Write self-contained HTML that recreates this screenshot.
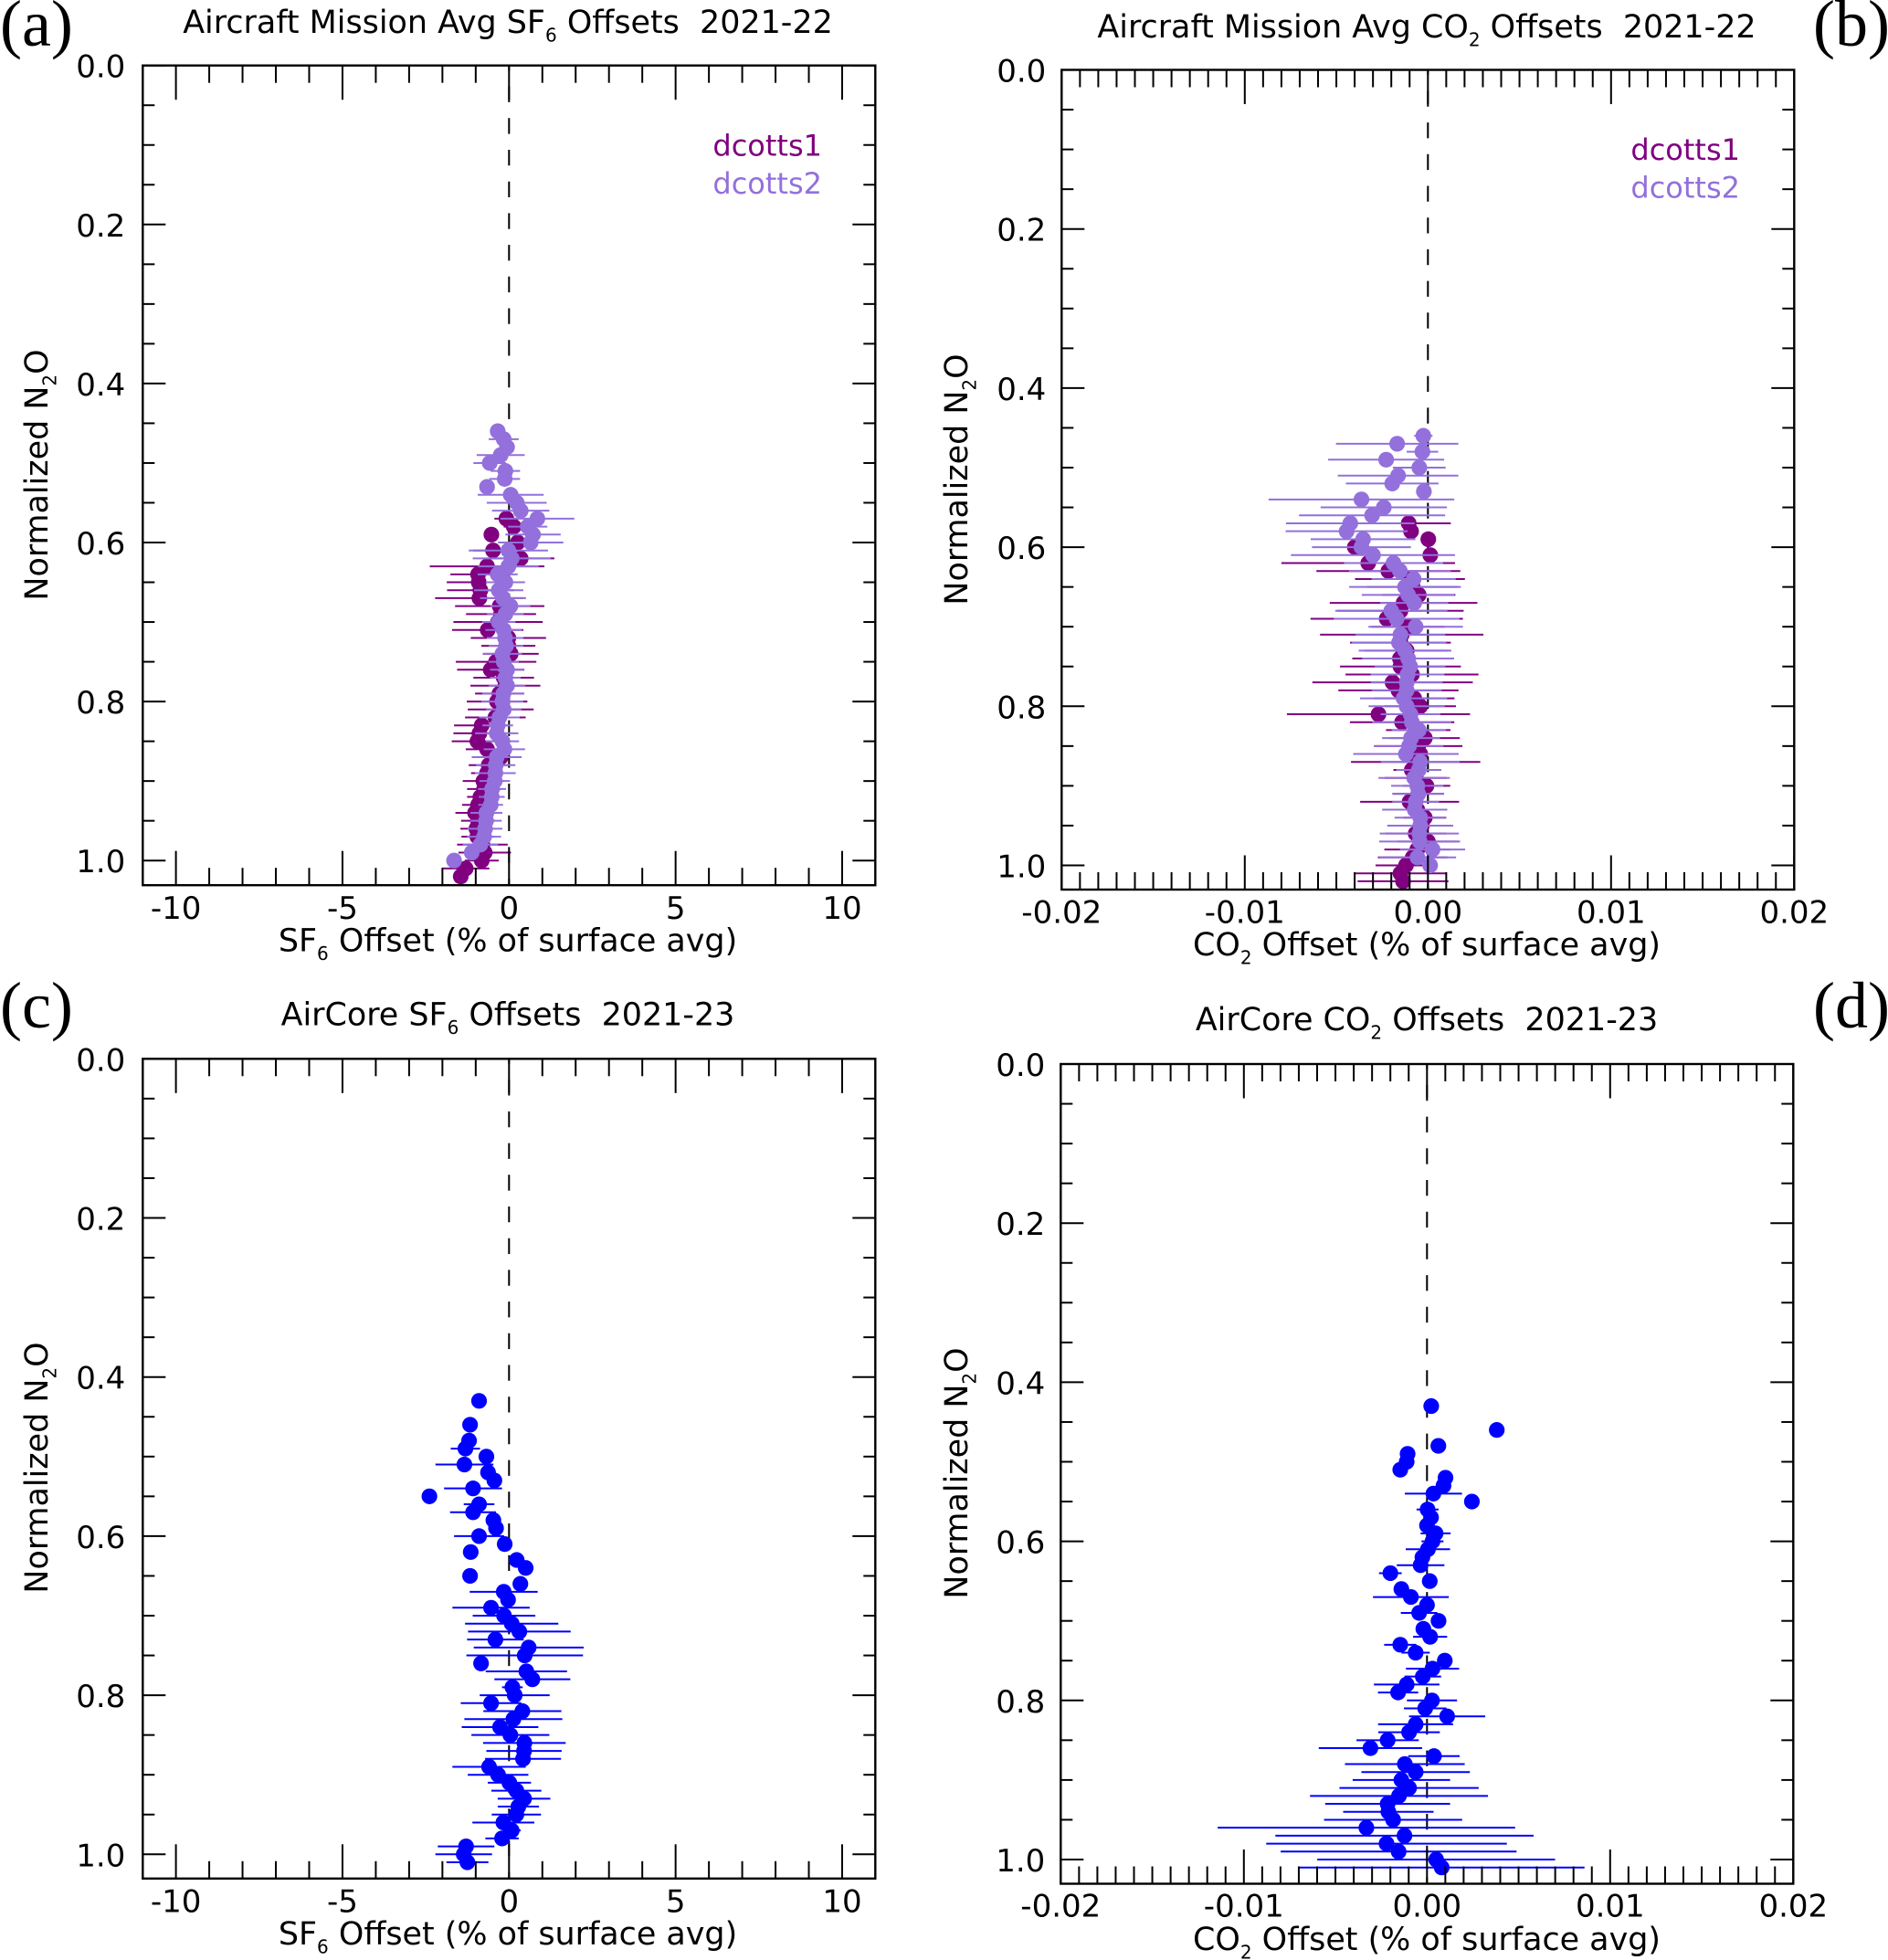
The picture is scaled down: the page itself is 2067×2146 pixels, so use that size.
<!DOCTYPE html>
<html lang="en">
<head>
<meta charset="utf-8">
<title>Aircraft and AirCore SF6 and CO2 Offsets</title>
<style>
html,body{margin:0;padding:0;background:#fff;}
svg{display:block;}
text{font-family:"DejaVu Sans",sans-serif;font-size:34px;fill:#000;white-space:pre;}
text.ttl{font-size:34.9px;}
text.leg{font-size:32px;}
text.panel-letter{font-family:"Liberation Serif",serif;font-size:72px;}
.sub{font-size:20px;}
</style>
</head>
<body>
<svg id="figure" xmlns="http://www.w3.org/2000/svg" width="2067" height="2146" viewBox="0 0 2067 2146">
<rect x="0" y="0" width="2067" height="2146" fill="#fff"/>

<text class="panel-letter" x="0" y="50">(a)</text>
<text class="panel-letter" x="1985" y="50">(b)</text>
<text class="panel-letter" x="0" y="1125">(c)</text>
<text class="panel-letter" x="1985" y="1125">(d)</text>

<text class="ttl" x="556" y="36" text-anchor="middle">Aircraft Mission Avg SF<tspan class="sub" dy="9.5">6</tspan><tspan dy="-9.5"> Offsets  2021-22</tspan></text>
<text class="ttl" x="1562" y="41" text-anchor="middle">Aircraft Mission Avg CO<tspan class="sub" dy="9.5">2</tspan><tspan dy="-9.5"> Offsets  2021-22</tspan></text>
<text class="ttl" x="556" y="1122.7" text-anchor="middle">AirCore SF<tspan class="sub" dy="9.5">6</tspan><tspan dy="-9.5"> Offsets  2021-23</tspan></text>
<text class="ttl" x="1562" y="1128" text-anchor="middle">AirCore CO<tspan class="sub" dy="9.5">2</tspan><tspan dy="-9.5"> Offsets  2021-23</tspan></text>

<text class="ttl" x="556" y="1041.7" text-anchor="middle">SF<tspan class="sub" dy="9.5">6</tspan><tspan dy="-9.5"> Offset (% of surface avg)</tspan></text>
<text class="ttl" x="1562" y="1046" text-anchor="middle">CO<tspan class="sub" dy="9.5">2</tspan><tspan dy="-9.5"> Offset (% of surface avg)</tspan></text>
<text class="ttl" x="556" y="2129" text-anchor="middle">SF<tspan class="sub" dy="9.5">6</tspan><tspan dy="-9.5"> Offset (% of surface avg)</tspan></text>
<text class="ttl" x="1562" y="2135" text-anchor="middle">CO<tspan class="sub" dy="9.5">2</tspan><tspan dy="-9.5"> Offset (% of surface avg)</tspan></text>

<text class="ttl" transform="translate(52 520) rotate(-90)" text-anchor="middle">Normalized N<tspan class="sub" dy="9.5">2</tspan><tspan dy="-9.5">O</tspan></text>
<text class="ttl" transform="translate(1059 525) rotate(-90)" text-anchor="middle">Normalized N<tspan class="sub" dy="9.5">2</tspan><tspan dy="-9.5">O</tspan></text>
<text class="ttl" transform="translate(52 1607) rotate(-90)" text-anchor="middle">Normalized N<tspan class="sub" dy="9.5">2</tspan><tspan dy="-9.5">O</tspan></text>
<text class="ttl" transform="translate(1059 1613) rotate(-90)" text-anchor="middle">Normalized N<tspan class="sub" dy="9.5">2</tspan><tspan dy="-9.5">O</tspan></text>

<g id="panel-a"></g>
<g id="panel-b"></g>
<g id="panel-c"></g>
<g id="panel-d"></g>

<text class="leg" x="900" y="170.5" text-anchor="end" style="fill:#800080">dcotts1</text>
<text class="leg" x="900" y="212" text-anchor="end" style="fill:#9370DB">dcotts2</text>
<text class="leg" x="1905" y="175" text-anchor="end" style="fill:#800080">dcotts1</text>
<text class="leg" x="1905" y="216.5" text-anchor="end" style="fill:#9370DB">dcotts2</text>
</svg>

<script>
// ---- axis labels ----
const sf6TickValues = [-10, -5, 0, 5, 10];
const sf6TickLabels = ["-10", "-5", "0", "5", "10"];
const co2TickValues = [-0.02, -0.01, 0, 0.01, 0.02];
const co2TickLabels = ["-0.02", "-0.01", "0.00", "0.01", "0.02"];
const n2oTickValues = [0, 0.2, 0.4, 0.6, 0.8, 1.0];
const n2oTickLabels = ["0.0", "0.2", "0.4", "0.6", "0.8", "1.0"];

// ---- panel (a) aircraft SF6 ----
const aDcotts1N2o = [0.57,0.58,0.59,0.60,0.61,0.62,0.63,0.64,0.65,0.66,
0.67,0.68,0.69,0.70,0.71,0.72,0.73,0.74,0.75,0.76,
0.77,0.78,0.79,0.80,0.81,0.82,0.83,0.84,0.85,0.86,
0.87,0.88,0.89,0.90,0.91,0.92,0.93,0.94,0.95,0.96,
0.97,0.98,0.99,1.00,1.01,1.02];
const aDcotts1Offset = [-0.08,0.14,-0.53,0.26,-0.48,0.35,-0.66,-0.93,-0.91,-0.86,
-0.89,-0.28,-0.24,-0.33,-0.64,-0.02,-0.02,0.05,-0.39,-0.55,
-0.16,-0.11,-0.29,-0.36,-0.25,-0.41,-0.82,-0.89,-0.95,-0.66,
-0.25,-0.61,-0.66,-0.77,-0.75,-0.86,-0.93,-1.02,-0.93,-0.98,
-0.95,-0.80,-0.73,-0.82,-1.30,-1.45];
const aDcotts1Error = [0.36,0.3,0,0.3,0.6,1.01,1.72,0.83,0.96,1.0,
1.33,1.34,1.05,1.34,1.07,1.13,0.81,0.84,1.21,1.01,
0.91,1.05,0.73,0.91,0.99,0.91,0.83,0.78,0.77,0.64,
0.60,0.60,0.48,0.62,0.51,0.40,0.48,0.59,0.51,0.48,
0.48,0.76,0.79,0.51,0.71,0];
const aDcotts2N2o = [0.46,0.47,0.48,0.49,0.50,0.51,0.52,0.53,0.54,0.55,
0.56,0.57,0.58,0.59,0.60,0.61,0.62,0.63,0.64,0.65,
0.66,0.67,0.68,0.69,0.70,0.71,0.72,0.73,0.74,0.75,
0.76,0.77,0.78,0.79,0.80,0.81,0.82,0.83,0.84,0.85,
0.86,0.87,0.88,0.89,0.90,0.91,0.92,0.93,0.94,0.95,
0.96,0.97,0.98,0.99,1.00];
const aDcotts2Offset = [-0.34,-0.16,-0.06,-0.25,-0.58,-0.11,-0.13,-0.66,0.05,0.23,
0.35,0.85,0.56,0.72,0.65,-0.02,0.08,-0.02,-0.34,-0.11,
-0.31,-0.18,0.04,-0.11,-0.31,-0.16,-0.12,-0.09,-0.20,-0.16,
-0.06,-0.11,-0.06,-0.17,-0.20,-0.16,-0.29,-0.34,-0.37,-0.20,
-0.14,-0.37,-0.40,-0.41,-0.43,-0.51,-0.52,-0.55,-0.68,-0.69,
-0.72,-0.75,-0.86,-1.12,-1.65];
const aDcotts2Error = [0,0.45,0,0.72,0.49,0.44,0.46,0,0.99,0.90,
0.86,1.11,0.59,0.83,0.98,1.19,1.17,0.91,0.60,0.59,
0.74,0.69,0.60,0.55,0.50,0.55,0.55,0.52,0.59,0.45,
0.51,0.46,0.55,0.63,0.63,0.53,0.61,0.46,0.65,0.50,
0.62,0.75,0.59,0.61,0.46,0.42,0.39,0.37,0.48,0.47,
0.52,0.51,0.53,0,0];

// ---- panel (b) aircraft CO2 ----
const bDcotts1N2o = [0.57,0.58,0.59,0.60,0.61,0.62,0.63,0.64,0.65,0.66,
0.67,0.68,0.69,0.70,0.71,0.72,0.73,0.74,0.75,0.76,
0.77,0.78,0.79,0.80,0.81,0.82,0.83,0.84,0.85,0.86,
0.87,0.88,0.89,0.90,0.91,0.92,0.93,0.94,0.95,0.96,
0.97,0.98,0.99,1.00,1.01,1.02];
const bDcotts1Offset = [-0.00105,-0.00092,0.00002,-0.00399,0.00013,-0.00326,-0.00216,-0.00098,-0.00083,-0.00050,
-0.00133,-0.00150,-0.00225,-0.00108,-0.00143,-0.00150,-0.00116,-0.00153,-0.00150,-0.00087,
-0.00193,-0.00161,-0.00075,-0.00042,-0.00270,-0.00141,-0.00053,-0.00017,-0.00053,-0.00042,
-0.00067,-0.00088,-0.00067,-0.00008,-0.00053,-0.00100,-0.00058,-0.00017,-0.00033,-0.00067,
0.00000,-0.00058,-0.00083,-0.00120,-0.00150,-0.00136];
const bDcotts1Error = [0.00230,0,0,0,0,0.00474,0.00393,0.00300,0.00250,0.00200,
0.00403,0.00345,0.00416,0.00200,0.00446,0.00275,0.00230,0.00260,0.00330,0.00363,
0.00438,0.00328,0.00220,0.00195,0.00500,0.00285,0.00176,0.00191,0.00241,0.00200,
0.00353,0.00100,0.00170,0.00130,0.00141,0.00270,0.00150,0.00117,0.00150,0.00166,
0.00166,0.00180,0.00190,0.00166,0.00246,0.00248];
const bDcotts2N2o = [0.46,0.47,0.48,0.49,0.50,0.51,0.52,0.53,0.54,0.55,
0.56,0.57,0.58,0.59,0.60,0.61,0.62,0.63,0.64,0.65,
0.66,0.67,0.68,0.69,0.70,0.71,0.72,0.73,0.74,0.75,
0.76,0.77,0.78,0.79,0.80,0.81,0.82,0.83,0.84,0.85,
0.86,0.87,0.88,0.89,0.90,0.91,0.92,0.93,0.94,0.95,
0.96,0.97,0.98,0.99,1.00];
const bDcotts2Offset = [-0.00025,-0.00168,-0.00030,-0.00228,-0.00047,-0.00163,-0.00195,-0.00022,-0.00363,-0.00241,
-0.00305,-0.00424,-0.00444,-0.00354,-0.00363,-0.00300,-0.00188,-0.00153,-0.00078,-0.00125,
-0.00108,-0.00075,-0.00200,-0.00171,-0.00067,-0.00150,-0.00158,-0.00125,-0.00108,-0.00097,
-0.00111,-0.00116,-0.00116,-0.00133,-0.00116,-0.00095,-0.00088,-0.00050,-0.00092,-0.00103,
-0.00120,-0.00042,-0.00050,-0.00075,-0.00058,-0.00053,-0.00067,-0.00072,-0.00042,-0.00042,
-0.00047,-0.00045,0.00025,-0.00057,0.00012];
const bDcotts2Error = [0.00050,0.00334,0.00086,0.00317,0.00144,0.00329,0.00253,0,0.00507,0.00345,
0.00399,0.00351,0.00333,0.00286,0.00270,0.00448,0.00270,0.00278,0.00230,0.00305,
0.00253,0.00186,0.00306,0.00343,0.00258,0.00245,0.00258,0.00253,0.00251,0.00193,
0.00201,0.00196,0.00191,0.00238,0.00208,0.00163,0.00216,0.00148,0.00158,0.00188,
0.00288,0.00215,0.00123,0.00195,0.00143,0.00141,0.00128,0.00178,0.00140,0.00180,
0.00216,0.00221,0.00178,0.00211,0];

// ---- panel (c) AirCore SF6 ----
const cN2o = [0.43,0.46,0.48,0.49,0.50,0.51,0.52,0.53,0.54,0.55,
0.56,0.57,0.58,0.59,0.60,0.61,0.62,0.63,0.64,0.65,
0.66,0.67,0.68,0.69,0.70,0.71,0.72,0.73,0.74,0.75,
0.76,0.77,0.78,0.79,0.80,0.81,0.82,0.83,0.84,0.85,
0.86,0.87,0.88,0.89,0.90,0.91,0.92,0.93,0.94,0.95,
0.96,0.97,0.98,0.99,1.00,1.01];
const cOffset = [-0.90,-1.17,-1.20,-1.31,-0.68,-1.34,-0.63,-0.44,-1.08,-2.39,
-0.90,-1.08,-0.47,-0.39,-0.90,-0.13,-1.15,0.23,0.50,-1.17,
0.34,-0.16,-0.03,-0.54,-0.15,0.08,0.31,-0.41,0.59,0.47,
-0.84,0.52,0.70,0.10,0.17,-0.54,0.40,0.13,-0.27,0.04,
0.46,0.45,0.42,-0.60,-0.33,0.01,0.22,0.45,0.28,0.22,
-0.17,0.08,-0.21,-1.29,-1.36,-1.25];
const cError = [0,0,0,0.44,0,0.87,0,0,0.87,0,
0.46,0.69,0,0,0.75,0,0,0,0,0,
0,1.02,0,1.16,0.94,1.40,1.54,0.85,1.65,1.75,
0,1.22,1.14,0.31,1.05,0.91,1.17,1.47,1.15,1.17,
1.24,1.13,1.14,1.10,0.91,0.65,0.75,0.79,0.62,0.74,
0.93,0.27,0.50,0.85,0.85,0.63];

// ---- panel (d) AirCore CO2 ----
const dN2o = [0.43,0.46,0.48,0.49,0.50,0.51,0.52,0.53,0.54,0.55,
0.56,0.57,0.58,0.59,0.60,0.61,0.62,0.63,0.64,0.65,
0.66,0.67,0.68,0.69,0.70,0.71,0.72,0.73,0.74,0.75,
0.76,0.77,0.78,0.79,0.80,0.81,0.82,0.83,0.84,0.85,
0.86,0.87,0.88,0.89,0.90,0.91,0.92,0.93,0.94,0.95,
0.96,0.97,0.98,0.99,1.00,1.01];
const dOffset = [0.00023,0.00381,0.00062,-0.00106,-0.00111,-0.00146,0.00101,0.00090,0.00035,0.00245,
0.00003,0.00022,0.00000,0.00047,0.00030,0.00005,-0.00025,-0.00035,-0.00200,0.00015,
-0.00140,-0.00088,0.00000,-0.00043,0.00063,-0.00020,0.00017,-0.00146,-0.00062,0.00097,
0.00030,-0.00023,-0.00111,-0.00158,0.00027,-0.00010,0.00110,-0.00062,-0.00098,-0.00215,
-0.00309,0.00038,-0.00121,-0.00062,-0.00140,-0.00098,-0.00153,-0.00215,-0.00211,-0.00185,
-0.00331,-0.00123,-0.00221,-0.00155,0.00050,0.00080];
const dError = [0,0,0,0,0,0,0,0,0.00156,0,
0.00060,0,0,0.00082,0.00060,0.00121,0,0.00130,0.00062,0,
0,0.00207,0,0.00100,0,0,0.00093,0.00088,0.00077,0,
0.00145,0.00100,0.00179,0.00110,0.00137,0.00116,0.00208,0.00205,0.00168,0.00170,
0.00282,0.00140,0.00327,0.00296,0.00266,0.00380,0.00486,0.00341,0.00247,0.00377,
0.00812,0.00705,0.00657,0.00644,0.00649,0.00780];

const SVG_NS = "http://www.w3.org/2000/svg";

function addEl(parent, tag, attrs, name) {
  const el = document.createElementNS(SVG_NS, tag);
  for (const k in attrs) el.setAttribute(k, attrs[k]);
  
  
  parent.appendChild(el);
  return el;
}

function drawSeries(g, prefix, sx, sy, levels, offsets, errors, color) {
  levels.forEach(function (lev, i) {
    const cy = sy(lev);
    if (errors[i] > 0) {
      addEl(g, 'line', {
        x1: sx(offsets[i] - errors[i]), x2: sx(offsets[i] + errors[i]),
        y1: cy, y2: cy, stroke: color, 'stroke-width': 2
      }, prefix + '-error-bar');
    }
    addEl(g, 'circle', { cx: sx(offsets[i]), cy: cy, r: 8.6, fill: color }, prefix + '-point');
  });
}

function drawPanel(p) {
  const g = document.getElementById(p.id);
  const sx = function (v) { return p.x0 + v * p.pxPerUnit; };
  const sy = function (v) { return p.top + v * p.pxPerN2o; };
  const bottom = p.top + 897.5;

  // zero line
  addEl(g, 'line', { x1: p.x0, x2: p.x0, y1: p.top, y2: bottom, stroke: '#000', 'stroke-width': 2,
    'stroke-dasharray': '17.3 17.4', 'stroke-dashoffset': 11.8 }, 'zero-offset-dashed-line');

  // series (under the axis frame)
  p.series.forEach(function (s) {
    drawSeries(g, s.name, sx, sy, s.levels, s.offsets, s.errors, s.color);
  });

  // x ticks: minor
  for (let i = -p.minorCount; i <= p.minorCount; i++) {
    const vx = sx(i * p.minorStep);
    const isMajor = p.xTicks.some(function (t) { return Math.abs(t - i * p.minorStep) < 1e-9; });
    const len = isMajor ? 37.5 : 19;
    addEl(g, 'line', { x1: vx, x2: vx, y1: p.top, y2: p.top + len, stroke: '#000', 'stroke-width': 2 }, 'x-tick-top');
    addEl(g, 'line', { x1: vx, x2: vx, y1: bottom, y2: bottom - len, stroke: '#000', 'stroke-width': 2 }, 'x-tick-bottom');
  }
  // x tick labels
  p.xTicks.forEach(function (t, i) {
    const el = addEl(g, 'text', { x: sx(t), y: p.xLabelY, 'text-anchor': 'middle' }, 'x-tick-label');
    el.textContent = p.xLabels[i];
  });

  // y ticks
  for (let i = 0; i <= 20; i++) {
    const v = i * 0.05;
    const vy = sy(v);
    const len = (i % 4 === 0) ? 25 : 13;
    addEl(g, 'line', { x1: p.left, x2: p.left + len, y1: vy, y2: vy, stroke: '#000', 'stroke-width': 2 }, 'y-tick-left');
    addEl(g, 'line', { x1: p.right, x2: p.right - len, y1: vy, y2: vy, stroke: '#000', 'stroke-width': 2 }, 'y-tick-right');
  }
  n2oTickValues.forEach(function (t, i) {
    const el = addEl(g, 'text', { x: p.left - p.yLabelGap, y: sy(t) + 13, 'text-anchor': 'end' }, 'y-tick-label');
    el.textContent = n2oTickLabels[i];
  });

  // frame
  addEl(g, 'rect', { x: p.left, y: p.top, width: p.right - p.left, height: bottom - p.top,
    fill: 'none', stroke: '#000', 'stroke-width': 2.4 }, 'axes-frame');
}

drawPanel({
  id: 'panel-a', left: 156.3, right: 958.3, top: 71.7, x0: 557.3, pxPerUnit: 36.47, pxPerN2o: 870.5,
  minorStep: 1, minorCount: 10, xTicks: sf6TickValues, xLabels: sf6TickLabels, xLabelY: 1006, yLabelGap: 19,
  series: [
    { name: 'dcotts1', levels: aDcotts1N2o, offsets: aDcotts1Offset, errors: aDcotts1Error, color: '#800080' },
    { name: 'dcotts2', levels: aDcotts2N2o, offsets: aDcotts2Offset, errors: aDcotts2Error, color: '#9370DB' }
  ]
});
drawPanel({
  id: 'panel-b', left: 1162.3, right: 1964.3, top: 76.5, x0: 1563.3, pxPerUnit: 20050, pxPerN2o: 871,
  minorStep: 0.001, minorCount: 20, xTicks: co2TickValues, xLabels: co2TickLabels, xLabelY: 1010.5, yLabelGap: 17,
  series: [
    { name: 'dcotts1', levels: bDcotts1N2o, offsets: bDcotts1Offset, errors: bDcotts1Error, color: '#800080' },
    { name: 'dcotts2', levels: bDcotts2N2o, offsets: bDcotts2Offset, errors: bDcotts2Error, color: '#9370DB' }
  ]
});
drawPanel({
  id: 'panel-c', left: 156.3, right: 958.3, top: 1159.3, x0: 557.3, pxPerUnit: 36.47, pxPerN2o: 871,
  minorStep: 1, minorCount: 10, xTicks: sf6TickValues, xLabels: sf6TickLabels, xLabelY: 2093.6, yLabelGap: 19,
  series: [
    { name: 'aircore-sf6', levels: cN2o, offsets: cOffset, errors: cError, color: '#0000FF' }
  ]
});
drawPanel({
  id: 'panel-d', left: 1161.3, right: 1963.3, top: 1165, x0: 1562.3, pxPerUnit: 20050, pxPerN2o: 871,
  minorStep: 0.001, minorCount: 20, xTicks: co2TickValues, xLabels: co2TickLabels, xLabelY: 2098.3, yLabelGap: 17,
  series: [
    { name: 'aircore-co2', levels: dN2o, offsets: dOffset, errors: dError, color: '#0000FF' }
  ]
});
</script>
</body>
</html>
